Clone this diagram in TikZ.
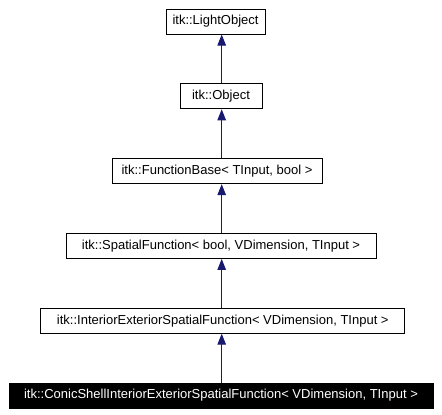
\documentclass[tikz,border=0pt]{standalone}
\usepackage{fontspec}
\setmainfont{Liberation Sans}
\usetikzlibrary{arrows.meta}
\definecolor{edgeblue}{HTML}{191970}
\begin{document}
\begin{tikzpicture}[x=1pt,y=-1pt,
  cls/.style={draw=black, line width=1pt, rectangle, inner sep=0pt, minimum height=25pt, font=\fontsize{13}{15}\selectfont, text=black, fill=white},
  cur/.style={cls, fill=black, text=white},
  inh/.style={draw=edgeblue, line width=1pt, -{Triangle[length=11pt,width=8.5pt]}, color=edgeblue}]
\useasboundingbox (0,0) rectangle (442,415);
\fill[white] (0,0) rectangle (442,415);
\coordinate (ax) at (221.7,0);
\node[cls, minimum width=99pt] (light) at (215.5,21.5) {itk::LightObject};
\node[cls, minimum width=82pt] (obj) at (221,96.3) {itk::Object};
\node[cls, minimum width=210pt] (fb) at (217,171.1) {itk::FunctionBase< TInput, bool >};
\node[cls, minimum width=310pt] (sf) at (221,245.9) {itk::SpatialFunction< bool, VDimension, TInput >};
\node[cls, minimum width=364pt] (ie) at (222.8,320.7) {itk::InteriorExteriorSpatialFunction< VDimension, TInput >};
\node[cur, minimum width=424pt] (conic) at (221,395.5) {itk::ConicShellInteriorExteriorSpatialFunction< VDimension, TInput >};
\draw[inh] (obj.north -| ax) -- (light.south -| ax);
\draw[inh] (fb.north -| ax) -- (obj.south -| ax);
\draw[inh] (sf.north -| ax) -- (fb.south -| ax);
\draw[inh] (ie.north -| ax) -- (sf.south -| ax);
\draw[inh] (conic.north -| ax) -- (ie.south -| ax);
\end{tikzpicture}
\end{document}
